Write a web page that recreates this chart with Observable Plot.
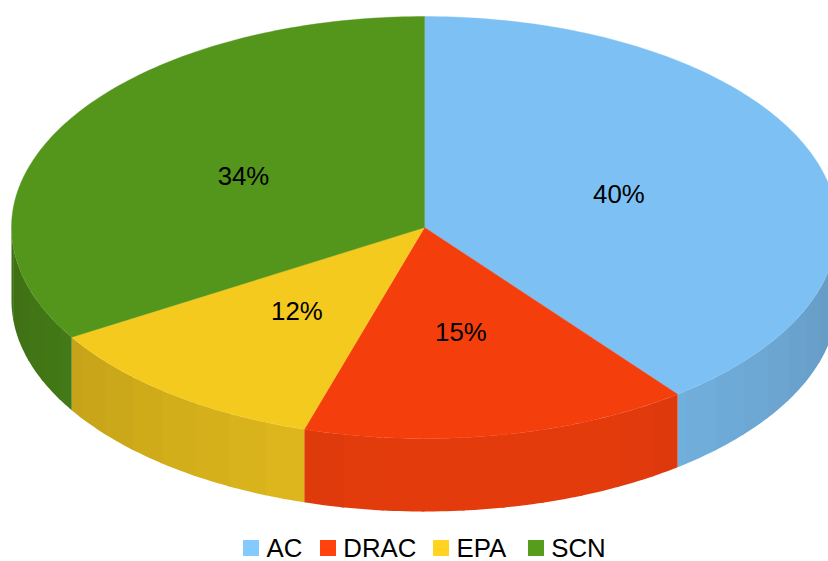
<!DOCTYPE html>
<html>
<head>
<meta charset="utf-8">
<script src="https://cdn.jsdelivr.net/npm/d3@7"></script>
<script src="https://cdn.jsdelivr.net/npm/@observablehq/plot@0.6"></script>
<style>
  html, body { margin: 0; padding: 0; background: #fff; overflow: hidden; }
  #chart { width: 828px; height: 520px; }
  #legend {
    position: absolute; left: 243px; top: 532px; height: 32px;
    display: flex; align-items: center;
    font: 25.8px "Liberation Sans", Arial, sans-serif; color: #000;
  }
  .item { display: flex; align-items: center; margin-right: 17.5px; }
  .item:nth-child(2) { margin-right: 16.5px; }
  .item:nth-child(3) { margin-right: 21.5px; }
  .swatch { width: 16px; height: 16px; margin-right: 7.5px; }
</style>
</head>
<body>
<div id="chart"></div>
<div id="legend"></div>
<script>
// Share of each category; the printed labels are these rounded to whole percents.
const categories = ["AC", "DRAC", "EPA", "SCN"];
const shares = [39.5, 15.2, 11.6, 33.7];
const legendColors = ["#83caff", "#ff420e", "#ffd320", "#579d1c"];

const total = d3.sum(shares);
const deg = Math.PI / 180;
const facetStep = 360 / 64;   // the rim is shaded in flat facets
const depth = 73 / 211;       // rim height, in units of the vertical radius

// Angles run clockwise from twelve o'clock.
const px = (a) => Math.sin(a * deg);
const py = (a) => -Math.cos(a * deg);

function shade(color, k) {
  const c = d3.rgb(color);
  return d3.rgb(c.r * k, c.g * k, c.b * k).formatHex();
}

let running = 0;
const slices = categories.map((name, i) => {
  const start = running / total * 360;
  running += shares[i];
  return {name, share: shares[i], start, end: running / total * 360, color: legendColors[i]};
});

// Points along an arc from a0 to a1, about one per degree.
function arc(a0, a1) {
  const n = Math.max(1, Math.ceil(Math.abs(a1 - a0)));
  return d3.range(n + 1).map((j) => a0 + (a1 - a0) * j / n);
}

// Flat top of every slice.
const topRows = slices.flatMap((s) => {
  const color = shade(s.color, 0.955);
  const ring = arc(s.start, s.end).map((a) => ({x: px(a), y: py(a)}));
  return [{x: 0, y: 0}, ...ring, {x: 0, y: 0}].map((p) => ({...p, key: s.name, color}));
});

// Brightness of a rim facet: level across the front, falling off towards the sides.
function rimLight(a) {
  return Math.min(0.89, 0.93 - 0.0023 * Math.abs(a - 170));
}

// Visible rim, from three o'clock round the front to nine o'clock.
// Each facet runs slightly under its neighbour so no seam shows between them.
const rimRows = [];
for (const s of slices) {
  const lo = Math.max(s.start, 90), hi = Math.min(s.end, 270);
  if (hi <= lo) continue;
  let a0 = lo;
  while (a0 < hi - 1e-6) {
    const a1 = Math.min(hi, (Math.floor(a0 / facetStep + 1e-6) + 1) * facetStep);
    const color = shade(s.color, rimLight((a0 + a1) / 2));
    const key = s.name + a0;
    const tail = Math.min(hi, a1 + 0.4);
    const upper = arc(a0, tail).map((a) => ({x: px(a), y: py(a)}));
    const lower = arc(tail, a0).map((a) => ({x: px(a), y: py(a) + depth}));
    [...upper, ...lower, upper[0]].forEach((p) => rimRows.push({...p, key, color}));
    a0 = a1;
  }
}

// Percent labels sit halfway along each slice's middle radius.
const labels = slices.map((s) => {
  const mid = (s.start + s.end) / 2;
  return {x: 0.5 * px(mid), y: 0.5 * py(mid), text: Math.round(s.share) + "%"};
});

const chart = Plot.plot({
  width: 828,
  height: 520,
  margin: 0,
  x: {domain: [-424 / 413, 404 / 413], range: [0, 828], axis: null},
  y: {domain: [-227 / 211, 293 / 211], range: [0, 520], axis: null},
  style: {background: "transparent"},
  marks: [
    Plot.line(rimRows, {x: "x", y: "y", z: "key", fill: "color", stroke: "none", curve: "linear"}),
    Plot.line(topRows, {x: "x", y: "y", z: "key", fill: "color", stroke: "color", strokeWidth: 0.4, curve: "linear"}),
    Plot.text(labels, {
      x: "x", y: "y", text: "text", dx: -1, dy: 1,
      fontSize: 25.8, fontFamily: "Liberation Sans, Arial, sans-serif", fill: "#000"
    })
  ]
});
document.getElementById("chart").append(chart);

// Legend row under the pie.
const legend = d3.select("#legend");
categories.forEach((name, i) => {
  const item = legend.append("div").attr("class", "item");
  item.append("div").attr("class", "swatch").style("background", legendColors[i]);
  item.append("span").text(name);
});
</script>
</body>
</html>
